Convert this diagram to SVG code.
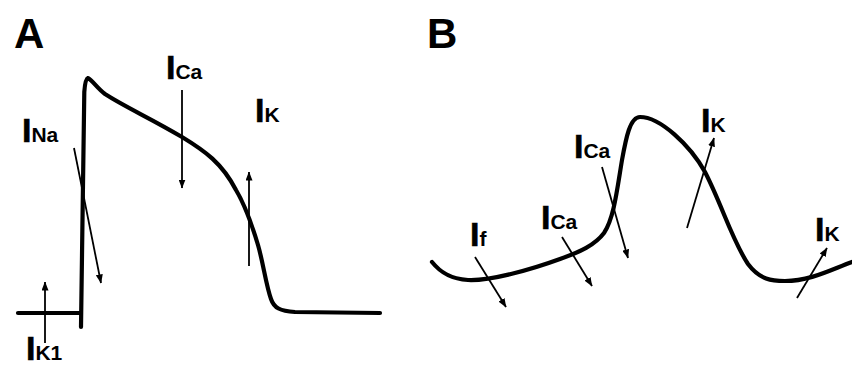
<svg xmlns="http://www.w3.org/2000/svg" width="852" height="372" viewBox="0 0 852 372">
<style>
.trace{fill:none;stroke:#000;stroke-width:4.2;stroke-linecap:round;stroke-linejoin:round}
.arr{fill:none;stroke:#000;stroke-width:1.8;marker-end:url(#ah)}
text{font-family:"Liberation Sans",Arial,sans-serif;font-weight:bold;fill:#000}
.big{font-size:34px;stroke:#000;stroke-width:0.6}
.sub{font-size:21px}
.panel{font-size:42px}
</style>
<defs>
<marker id="ah" markerUnits="userSpaceOnUse" markerWidth="9" markerHeight="7" refX="8.5" refY="3.5" orient="auto">
<path d="M0,0 L9,3.5 L0,7 z" fill="#000"/>
</marker>
</defs>
<rect width="852" height="372" fill="#fff"/>

<g id="panelA">
<text id="labelA" class="panel" x="14" y="48">A</text>
<path id="traceA" class="trace" d="M18,313 L81,313 M81,327 L84.3,92 Q85.2,79 88,78 C93,81 97,88 105,94 C125,107 150,118 182,137 C205,151 222,163 236,190 C245,205 252,225 258,245 C263,262 266,285 271,299 C274,308 280,311 295,312 L380,313"/>
</g>

<g id="panelB">
<text id="labelB" class="panel" x="427" y="48">B</text>
<path id="traceB" class="trace" d="M432,262 C440,272 450,279 468,280 C490,281 530,270 560,259 C580,252 595,245 604,233 C614,218 617,190 622,160 C626,138 630,117 640,117 C660,117 690,145 705,172 C722,205 732,240 748,264 C760,280 772,281 785,281 C810,281 830,270 852,262"/>
</g>

<g id="connectors">
<line class="arr" x1="74" y1="148" x2="101" y2="283"/>
<line class="arr" x1="45" y1="343" x2="45" y2="282"/>
<line class="arr" x1="182" y1="90" x2="182" y2="188"/>
<line class="arr" x1="249" y1="266" x2="249" y2="172"/>
<line class="arr" x1="475" y1="257" x2="506" y2="307"/>
<line class="arr" x1="562" y1="237" x2="592" y2="286"/>
<line class="arr" x1="602" y1="167" x2="628" y2="258"/>
<line class="arr" x1="687" y1="228" x2="714" y2="138"/>
<line class="arr" x1="797" y1="298" x2="827" y2="248"/>
</g>

<g id="INa"><text x="22" y="142"><tspan class="big">I</tspan><tspan class="sub">Na</tspan></text></g>
<g id="IK1"><text x="26" y="360"><tspan class="big">I</tspan><tspan class="sub">K1</tspan></text></g>
<g id="ICaA"><text x="166" y="79"><tspan class="big">I</tspan><tspan class="sub">Ca</tspan></text></g>
<g id="IKA"><text x="255" y="122"><tspan class="big">I</tspan><tspan class="sub">K</tspan></text></g>
<g id="If"><text x="470" y="246"><tspan class="big">I</tspan><tspan class="sub">f</tspan></text></g>
<g id="ICaB1"><text x="541" y="229"><tspan class="big">I</tspan><tspan class="sub">Ca</tspan></text></g>
<g id="ICaB2"><text x="574" y="158"><tspan class="big">I</tspan><tspan class="sub">Ca</tspan></text></g>
<g id="IKB1"><text x="701" y="132"><tspan class="big">I</tspan><tspan class="sub">K</tspan></text></g>
<g id="IKB2"><text x="815" y="241"><tspan class="big">I</tspan><tspan class="sub">K</tspan></text></g>
</svg>
